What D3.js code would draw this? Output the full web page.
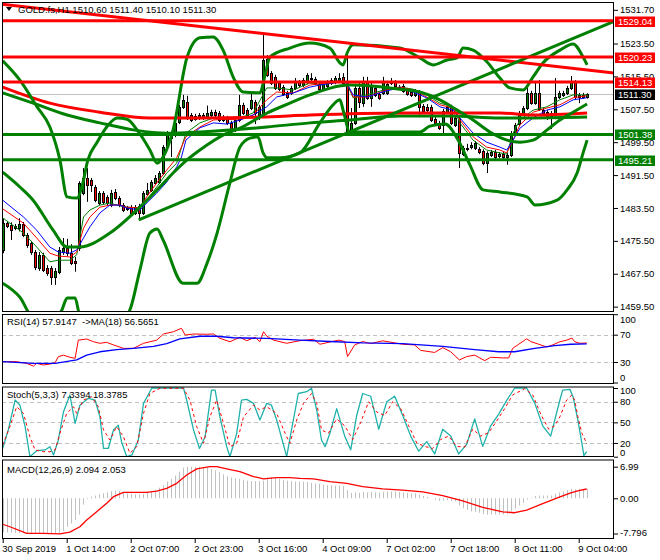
<!DOCTYPE html>
<html><head><meta charset="utf-8">
<script src="https://cdn.jsdelivr.net/npm/d3@7/dist/d3.min.js"></script>
<style>
html,body{margin:0;padding:0;background:#fff;}
svg{display:block;}
text{font-family:"Liberation Sans",Arial,sans-serif;font-size:9.5px;fill:#000;}
</style></head><body>
<svg id="chart" width="660" height="560"></svg>
<script>
// ---------- DATA ----------
const title = "GOLD.fs,H1  1510.60 1511.40 1510.10 1511.30";
const open = [
1473.3,1479.8,1479.4,1478.6,1478.6,1479.6,1476.9,1475.0,1472.8,1468.9,
1472.1,1468.9,1468.9,1466.7,1467.9,1472.8,1473.8,1472.5,1470.6,1473.8,
1487.1,1490.8,1490.3,1488.6,1484.7,1487.1,1486.2,1484.2,1487.4,1485.9,
1484.2,1483.5,1483.7,1482.3,1484.0,1482.3,1486.9,1487.9,1489.6,1489.8,
1492.0,1498.3,1501.7,1501.2,1504.4,1508.1,1509.3,1506.1,1505.1,1505.4,
1506.1,1505.6,1506.1,1506.9,1506.6,1504.9,1505.4,1504.2,1502.5,1504.9,
1508.6,1507.3,1507.8,1509.3,1506.1,1506.1,1519.7,1516.3,1515.4,1513.9,
1512.9,1511.5,1511.5,1512.7,1514.1,1513.4,1514.1,1514.9,1514.9,1513.7,
1512.4,1513.2,1513.9,1514.1,1514.6,1515.4,1514.1,1501.7,1504.2,1512.7,
1509.0,1514.1,1510.3,1512.7,1511.2,1511.5,1511.5,1513.9,1514.1,1512.9,
1513.2,1512.2,1511.7,1511.0,1511.7,1508.3,1508.1,1508.1,1505.1,1504.2,
1503.7,1506.9,1508.1,1503.7,1505.1,1496.6,1497.8,1498.3,1498.1,1497.8,
1497.3,1494.4,1496.4,1497.1,1496.1,1496.6,1495.9,1496.4,1501.7,1503.9,
1506.4,1507.8,1511.5,1509.0,1511.5,1507.3,1506.9,1505.4,1506.4,1510.5,
1511.0,1511.5,1512.7,1514.1,1510.5,1511.0,1510.6];
const close = [
1479.8,1479.1,1478.1,1479.1,1479.6,1476.9,1474.5,1472.8,1469.1,1472.1,
1468.4,1467.7,1466.7,1468.2,1473.3,1473.8,1472.5,1470.1,1470.1,1489.6,
1490.8,1489.1,1489.1,1485.4,1487.1,1484.9,1484.7,1487.1,1485.9,1484.2,
1483.0,1483.3,1482.3,1483.7,1482.3,1487.1,1487.9,1489.8,1490.8,1492.0,
1498.3,1501.7,1500.5,1504.2,1508.1,1509.8,1505.4,1504.9,1505.9,1506.1,
1505.4,1506.6,1506.9,1506.1,1504.9,1505.6,1504.2,1502.5,1504.9,1508.6,
1506.6,1506.1,1509.8,1506.6,1508.1,1519.5,1515.9,1513.9,1512.7,1512.4,
1511.2,1510.5,1512.7,1514.1,1513.4,1514.6,1515.9,1515.1,1513.9,1512.4,
1513.7,1514.1,1514.6,1515.1,1515.1,1513.9,1501.7,1504.2,1512.7,1509.3,
1514.1,1510.3,1512.9,1511.0,1510.3,1514.4,1513.7,1514.1,1513.2,1512.7,
1512.0,1511.2,1511.0,1512.0,1508.1,1507.1,1507.3,1504.9,1504.2,1503.0,
1507.1,1508.1,1504.2,1505.4,1496.9,1498.1,1498.1,1498.8,1499.3,1497.1,
1494.4,1496.9,1497.1,1495.9,1496.6,1495.9,1496.4,1501.7,1503.7,1506.6,
1507.8,1511.5,1509.0,1511.5,1507.6,1506.6,1505.4,1506.6,1510.5,1511.5,
1511.5,1512.7,1514.1,1510.5,1511.0,1510.6,1511.3];
const high = [
1480.8,1480.3,1480.0,1479.6,1481.0,1480.1,1477.4,1475.5,1473.3,1472.8,
1472.6,1469.6,1469.4,1468.9,1474.0,1476.2,1476.0,1474.7,1471.6,1490.0,
1493.2,1493.2,1490.8,1489.1,1487.6,1487.6,1486.6,1487.9,1488.1,1486.4,
1484.7,1484.0,1484.2,1484.2,1484.5,1487.6,1489.6,1490.3,1491.5,1492.5,
1498.8,1502.2,1502.2,1504.7,1508.6,1511.0,1510.8,1506.6,1506.4,1506.6,
1506.6,1508.4,1507.4,1507.4,1507.1,1506.1,1505.9,1504.7,1505.4,1511.0,
1509.1,1507.8,1511.5,1509.8,1508.6,1526.1,1520.7,1516.8,1515.9,1514.4,
1513.4,1512.0,1513.2,1515.1,1514.6,1515.1,1516.3,1516.3,1515.4,1514.1,
1514.1,1514.6,1515.1,1515.6,1516.3,1516.3,1521.4,1507.8,1513.7,1514.1,
1515.4,1515.4,1513.9,1513.2,1511.7,1515.4,1514.4,1515.1,1514.6,1513.4,
1513.7,1512.7,1512.2,1512.4,1512.2,1508.8,1508.8,1508.6,1505.6,1504.7,
1507.6,1508.6,1508.6,1505.9,1505.6,1498.6,1499.1,1499.5,1499.8,1498.3,
1497.8,1497.3,1497.6,1497.6,1497.1,1497.1,1496.9,1502.2,1504.2,1507.1,
1508.3,1512.9,1512.0,1514.4,1514.6,1507.8,1507.3,1507.1,1515.1,1512.0,
1512.0,1513.2,1515.6,1514.6,1511.5,1511.5,1511.4];
const low = [
1472.5,1478.6,1475.7,1478.1,1477.8,1476.4,1473.8,1472.1,1468.4,1468.2,
1467.9,1467.0,1464.8,1464.8,1467.4,1472.1,1471.8,1469.6,1468.0,1473.0,
1486.6,1485.0,1487.4,1484.9,1484.2,1484.4,1484.0,1483.7,1485.4,1483.7,
1482.5,1482.8,1481.8,1481.8,1480.6,1481.8,1486.4,1487.4,1489.1,1489.3,
1491.5,1497.8,1495.9,1500.7,1503.9,1507.6,1504.9,1504.4,1504.7,1504.9,
1504.9,1505.1,1505.6,1505.6,1504.4,1504.4,1503.7,1501.7,1502.0,1504.4,
1506.1,1505.6,1507.3,1503.9,1504.9,1505.6,1515.4,1513.4,1512.2,1511.9,
1510.8,1510.0,1511.0,1512.2,1512.9,1512.9,1513.6,1513.9,1513.4,1511.9,
1511.9,1512.7,1513.4,1513.6,1514.1,1513.4,1501.2,1501.0,1503.7,1507.8,
1508.1,1509.8,1508.1,1510.5,1509.8,1511.0,1511.0,1513.4,1512.7,1512.2,
1511.5,1510.8,1510.5,1510.5,1505.6,1506.6,1506.6,1504.4,1503.7,1502.5,
1501.2,1506.4,1503.7,1503.2,1493.2,1496.1,1497.3,1497.8,1497.6,1496.6,
1493.9,1492.0,1495.9,1495.4,1495.6,1495.4,1494.0,1495.9,1501.2,1503.4,
1505.9,1507.3,1508.6,1508.6,1507.1,1506.1,1504.9,1502.7,1505.1,1510.0,
1510.5,1511.0,1512.2,1510.0,1509.0,1510.1,1510.1];

// thin moving averages, [bar, price]
const maBlue = [[0,1485.4],[5.2,1481.3],[8.5,1478.1],[11.8,1474.0],[13.9,1472.8],[16.8,1472.5],[18.5,1473.3],[20.2,1476.2],[21.8,1478.9],[24.3,1482.3],[26.8,1484.2],[29.3,1484.2],[31,1483.5],[34.3,1483.0],[36,1484.7],[38.5,1487.1],[41,1489.8],[43.5,1493.5],[44.7,1495.9],[45.8,1500.0],[49.3,1503.0],[52.7,1504.2],[56,1503.9],[59.3,1504.9],[62.6,1506.1],[66,1508.1],[68.5,1510.5],[72.7,1511.5],[76.8,1512.9],[79.3,1513.4],[84.3,1514.1],[86,1513.9],[87.6,1511.0],[91,1510.5],[96,1512.0],[99.3,1512.7],[102.6,1511.7],[106,1510.3],[109.3,1508.1],[112.6,1507.3],[114.3,1505.4],[117.6,1501.7],[121,1499.5],[124.3,1498.3],[126,1497.6],[127.6,1500.0],[129.3,1502.9],[132.6,1505.4],[136,1507.3],[139.3,1508.1],[142.6,1509.8],[146,1510.3]];
const maRed = [[0,1483.3],[5.2,1479.8],[8.5,1476.2],[11.8,1472.5],[13.9,1471.8],[16.8,1471.6],[18.5,1472.8],[20.2,1478.6],[21.8,1481.3],[24.3,1483.7],[26.8,1484.2],[29.3,1484.2],[31,1483.7],[34.3,1483.5],[36,1486.2],[38.5,1489.6],[41,1492.7],[43.5,1495.7],[45.8,1500.8],[49.3,1503.2],[52.7,1504.9],[56,1505.1],[59.3,1504.9],[62.6,1506.1],[66,1509.8],[68.5,1511.7],[72.7,1511.5],[76.8,1513.4],[79.3,1513.7],[84.3,1514.4],[86,1514.1],[87.6,1510.5],[91,1510.5],[96,1512.2],[99.3,1512.9],[102.6,1512.2],[106,1510.5],[109.3,1508.6],[112.6,1507.8],[114.3,1504.9],[117.6,1500.8],[121,1498.3],[124.3,1497.6],[126,1496.9],[127.6,1500.0],[129.3,1503.7],[132.6,1506.8],[136,1507.8],[139.3,1508.6],[142.6,1510.3],[146,1510.8]];
const maGreen = [[0,1481.1],[5.2,1477.4],[8.5,1474.0],[11.8,1470.4],[13.9,1470.8],[16.8,1470.8],[18.5,1472.1],[20.2,1481.3],[21.8,1483.0],[24.3,1484.2],[26.8,1484.7],[29.3,1484.0],[31,1483.7],[34.3,1483.5],[36,1485.4],[38.5,1488.6],[41,1492.0],[43.5,1494.4],[45.8,1501.7],[49.3,1504.2],[52.7,1505.4],[56,1505.1],[59.3,1505.4],[62.6,1506.6],[66,1512.7],[68.5,1512.7],[72.7,1512.2],[76.8,1513.9],[79.3,1513.4],[84.3,1514.4],[86,1513.9],[87.6,1510.3],[91,1511.0],[96,1512.4],[99.3,1512.9],[102.6,1512.4],[106,1511.0],[109.3,1509.0],[112.6,1508.1],[114.3,1504.2],[117.6,1500.0],[121,1497.6],[124.3,1496.9],[126,1496.6],[127.6,1501.7],[129.3,1504.9],[132.6,1507.3],[136,1508.1],[139.3,1509.8],[142.6,1511.0],[146,1511.0]];

// Bollinger bands (thick green), [bar, price]
const bbUpper = [[0,1519.3],[4.3,1514.6],[8.6,1508.1],[11.8,1503.2],[14.3,1495.2],[16.1,1486.2],[18.6,1485.9],[19.8,1488.6],[21.3,1495.2],[23.6,1499.5],[26,1503.2],[28.6,1505.4],[31.1,1505.1],[33.6,1502.5],[36.8,1497.6],[38.6,1494.4],[40.1,1495.9],[42.6,1502.5],[46.1,1520.2],[49.3,1524.9],[52.6,1525.1],[55.1,1521.9],[57.6,1515.4],[60.1,1511.7],[64.3,1511.5],[65.6,1515.9],[66.8,1520.2],[71.8,1522.4],[76.8,1523.6],[81.8,1522.4],[84.3,1518.8],[85.1,1518.3],[86.1,1521.2],[87.6,1523.2],[99.3,1522.4],[104.3,1520.0],[107.6,1518.3],[111.1,1519.5],[113.6,1520.0],[115.1,1522.4],[117.6,1521.9],[121.1,1519.0],[124.3,1515.1],[126.8,1512.7],[130.1,1512.2],[132.6,1515.4],[135.1,1518.8],[139.3,1521.9],[142.6,1523.4],[145.1,1520.2],[146.1,1518.3]];
const bbMiddle = [[0,1492.2],[4.3,1488.6],[7.6,1485.4],[12.6,1478.1],[16.1,1474.0],[19.3,1474.0],[26.8,1477.4],[34.3,1483.7],[39.3,1488.6],[42.6,1492.0],[46.1,1495.2],[49.3,1497.6],[56.1,1501.7],[59.3,1502.9],[66.1,1506.6],[71.8,1509.0],[76.8,1511.0],[86.8,1513.4],[99.3,1512.4],[104.3,1511.7],[109.3,1509.8],[113.6,1507.3],[117.6,1504.9],[121.8,1502.0],[126.1,1500.0],[129.3,1499.5],[132.6,1500.0],[136.1,1502.5],[139.3,1504.9],[142.6,1506.8],[146.1,1508.8]];
const bbLower = [[0,1465.2],[4.3,1461.8],[7.6,1457.0],[13.5,1457.0],[14.8,1458.7],[16.1,1461.6],[18.1,1461.6],[19.3,1457.5],[30.8,1457.0],[31.8,1458.7],[34.3,1468.4],[36.8,1477.4],[38.6,1478.4],[40.1,1475.7],[45.1,1465.2],[48.6,1465.2],[51.1,1470.1],[53.6,1477.4],[56.8,1489.6],[59.3,1498.3],[61.8,1500.5],[63.8,1500.8],[65.1,1496.9],[66.1,1495.7],[69.3,1495.7],[74.3,1496.9],[79.3,1504.2],[82.6,1508.6],[84.3,1509.8],[85.1,1507.3],[86.8,1502.0],[104.3,1502.0],[106.8,1503.4],[110.6,1503.9],[113.6,1500.5],[116.8,1494.0],[120.1,1487.9],[124.3,1487.4],[131.1,1486.2],[133.1,1484.2],[138.6,1485.4],[141.1,1487.9],[143.6,1492.0],[145.1,1496.9],[146.1,1500.0]];
// long moving averages (thick)
const maLongGreen = [[0,1511.5],[7.6,1509.0],[16.1,1506.1],[24.3,1504.2],[32.6,1502.5],[41.1,1501.7],[49.3,1502.0],[57.6,1502.5],[66.1,1503.2],[76.8,1504.2],[86.8,1504.9],[99.3,1505.9],[111.8,1505.9],[124.3,1505.4],[132.6,1505.4],[146.1,1505.6]];
const maLongRed = [[0,1512.9],[11.8,1509.0],[24.3,1506.8],[36.8,1505.4],[49.3,1505.4],[64.3,1505.6],[76.8,1506.1],[99.3,1506.6],[124.3,1506.6],[132.6,1506.1],[146.1,1506.6]];

// trend lines (two anchor points: [bar, price])
const trendRed = [[0,1533.05],[146,1517.1]];
const trendGreen = [[34,1480.6],[146,1526.1]];
// horizontal levels
const levelsRed = [1529.04,1520.23,1514.13];
const levelsGreen = [1501.38,1495.21];
const lastPrice = 1511.30;
const priceTicks = [1531.70,1523.50,1515.50,1507.50,1499.50,1491.50,1483.50,1475.50,1467.50,1459.50];

// RSI
const rsi = [[0,30.5],[3.5,30.5],[6,28],[7.7,24],[8.5,28],[10.2,25.6],[11.8,27],[13.1,29],[13.9,37.8],[15.2,40],[16.8,37],[18.1,35.4],[18.9,62],[21,63.7],[22.7,59.7],[24.3,57.4],[26,58.8],[27.7,55],[30.2,50],[32.7,50],[35.2,57.4],[38.5,62],[40.2,71],[42.7,74.4],[44.7,79.4],[45.6,69.5],[47.7,71],[51,70.6],[52.7,71],[54.3,64.7],[56.8,59.7],[59.3,66.2],[61,61.2],[63.1,66.2],[64.3,59.7],[65.2,74.4],[66,68],[67.7,62],[71,57.4],[74.3,61.2],[77.7,63.3],[79.3,56],[81.8,59.3],[84,62],[85.5,60],[86.2,38],[88,55],[90,60],[92,57],[95,61],[98,58],[100,56],[103,55],[104.5,47],[108,44],[110,51],[112,45],[114.2,33],[116,38],[118,40],[120.5,32],[122,37],[125,36],[126.5,36],[127.5,50],[129,56],[131,64],[132,60],[134,56],[136,52],[137.5,55],[139.3,59.7],[141,62],[142.3,65],[143,59.7],[144.3,57.4],[146,57.9]];
const rsiMA = [[0,30.5],[7.7,28],[13.1,28],[18.5,33],[21,40],[24.3,45],[28.5,48],[32.7,50],[37.7,53],[41,57],[44.3,64],[49.3,67.7],[53.5,67.7],[57.7,65.5],[66,64.5],[74.3,62],[81.8,60],[90,58],[100,57],[110,53],[118,48],[124,45],[128,45],[133,50],[138,54],[142,56],[146,56.6]];
const rsiLevels = [70,30], rsiTicks = [100,70,30,0];

// Stochastic
const stochK = [[0,12],[1.4,39],[3.1,82.5],[4.3,75],[5.6,43.7],[6.8,0],[8.5,8.7],[10.6,9.8],[11.8,14.6],[12.7,2.5],[13.9,24],[15.2,65.5],[16.8,89.8],[18.1,48.6],[19.3,75],[21.4,85],[23.1,82.5],[24.3,58.2],[25.2,12.2],[26.4,12],[27.7,39],[28.9,46],[29.7,21.8],[31,0],[32.3,2.5],[33.9,24],[35.2,77.7],[37.3,100],[41,100],[45.2,100],[46,82.5],[47.7,39],[49.2,12],[50.6,29],[52.2,97],[53.1,97],[54.3,58],[56,14.6],[56.8,0],[58.5,34],[59.7,82.5],[61,83.5],[62.7,77.7],[64.3,53.4],[66,77.7],[67.2,75],[68.5,53.4],[71,0],[72.2,39],[73.9,92],[76,94.6],[77.2,99.6],[78.5,68],[79.7,24.3],[80.6,14.6],[81.8,34],[83.5,70],[85.5,30],[87,10],[88.5,60],[90,92],[92,88],[94,40],[96,80],[98,88],[100,60],[102,30],[104,8],[106,22],[108,4],[110,40],[112,30],[114,4],[116,18],[118,55],[120,15],[122,45],[124,62],[126,82],[128,100],[131,100],[133,78],[135,45],[137,30],[138.3,60],[139.3,82.5],[140,97],[141.8,98],[142.6,87],[143.8,53],[144.8,19.5],[145.3,1.5],[146,7.3]];
const stochD = [[0,17],[1.8,43.7],[3.5,72.8],[5.2,63],[6.8,29],[8.1,9.8],[10.2,7.3],[11.8,7.3],[13.1,9.8],[14.3,34],[16,63],[17.7,72.8],[18.5,63],[20.2,82.5],[22.2,87.3],[23.9,72.8],[25.2,39],[26.8,24.3],[28.5,43.7],[30.2,29],[31.8,5],[33.5,14.6],[35.2,63],[36.8,92],[39.3,99.6],[45.2,99.6],[46.8,82.5],[48.5,43.7],[50.2,19.5],[51.8,58],[53.5,82.5],[55.2,48.6],[56.8,14.6],[58.5,19.5],[60.2,58],[62.7,75],[64.3,68],[66,72.8],[68.5,63],[70.6,34],[71.8,19.5],[73.5,53.4],[75.2,77.7],[77.2,92],[78.5,77.7],[79.7,39],[81.4,34],[83.5,55],[85.5,45],[87.5,25],[89.5,50],[91.5,80],[93.5,65],[95.5,60],[97.5,80],[99.5,70],[101.5,45],[103.5,20],[105.5,15],[107.5,12],[109.5,25],[111.5,30],[113.5,15],[115.5,14],[117.5,40],[119.5,30],[121.5,35],[123.5,52],[125.5,70],[127.5,90],[130.5,99],[132.5,90],[134.5,62],[136.5,40],[138,45],[139.3,58],[141,82.5],[142.3,89.8],[143,82.5],[143.8,58],[144.8,34],[145.6,24.3],[146,18.4]];
const stochLevels = [80,50,20], stochTicks = [100,80,50,20,0];

// MACD
const macdHist = [
-7.5,-7.6,-7.6,-7.7,-7.7,-7.7,-7.796,-7.796,-7.796,-7.796,-7.796,-7.796,-7.796,-7.796,-7.7,
-7.3,-6.3,-5.6,-4.8,-3.6,-1.4,-0.2,0.35,0.6,0.9,1.1,1.3,1.6,1.7,1.6,
1.3,1.1,1.0,0.9,0.9,1.0,1.3,1.6,1.9,2.35,2.9,3.7,4.3,5.0,5.9,
6.8,6.99,6.99,6.99,6.99,6.95,6.85,6.5,6.2,5.9,5.3,4.9,4.6,4.4,4.3,
4.1,3.9,3.8,3.8,3.8,3.9,4.6,4.7,4.5,4.3,4.1,3.9,3.8,3.7,3.7,
3.7,3.6,3.4,3.3,3.2,3.0,2.9,2.9,2.8,2.8,2.7,1.8,1.2,1.3,1.2,
1.4,1.3,1.4,1.3,1.2,1.4,1.5,1.5,1.5,1.4,1.3,1.2,1.1,1.1,0.8,
0.5,0.3,0.0,-0.3,-0.6,-0.5,-0.4,-0.6,-0.7,-1.6,-2.2,-2.6,-2.9,-3.0,-3.2,
-3.5,-3.6,-3.6,-3.6,-3.6,-3.6,-3.5,-2.9,-2.3,-1.6,-1.0,-0.3,0.1,0.5,0.6,
0.6,0.6,0.6,1.0,1.3,1.5,1.8,2.1,2.0,2.1,2.1,2.094];
const macdSignal = [[0,-5.75],[1.8,-6.3],[6,-7.75],[10.2,-7.75],[14.3,-7.9],[16.8,-7.5],[19.3,-6.3],[21,-4.8],[23.5,-2.96],[26,-1.1],[27.7,0.35],[30.2,1.3],[32.7,1.3],[36,1.3],[38.5,1.6],[41,2.2],[43.5,3.3],[46,5.15],[48.5,6.5],[51.8,7.0],[53.5,7.0],[56,6.5],[59.3,5.9],[62.7,4.8],[65.2,4.3],[68.5,4.55],[71.8,4.55],[74.3,4.4],[77.7,4.3],[81.8,3.7],[86,3.3],[90,2.6],[95,2.1],[100,1.8],[105,1.4],[110,0.6],[115,-0.6],[120,-2.0],[125,-3.0],[128,-3.2],[131,-2.6],[135,-1.2],[139,0.2],[142,1.2],[144,1.7],[146,2.053]];
const macdTicks = [6.99,0.00,-7.796];

// time axis
const timeTickBars = [0,16,32,48,64,80,96,112,128,144];
const timeLabels = ["30 Sep 2019","1 Oct 14:00","2 Oct 07:00","2 Oct 23:00","3 Oct 16:00","4 Oct 09:00","7 Oct 02:00","7 Oct 18:00","8 Oct 11:00","9 Oct 04:00"];

// ---------- DRAW ----------
const svg = d3.select("#chart");
const L = 2, R = 614;
const P = {main:[2,312], rsi:[314,384], sto:[386.5,457], macd:[459.5,539]};
const x = d3.scaleLinear().domain([0,146]).range([2.7,586.7]);
const y = d3.scaleLinear().domain([1458.2,1533.6]).range([312,2]);
const yR = d3.scaleLinear().domain([0,100]).range([382.5,314.2]);
const yS = d3.scaleLinear().domain([0,100]).range([456.7,388]);
const yM = d3.scaleLinear().domain([-7.796,6.99]).range([533.5,466.7]);

const defs = svg.append("defs");
Object.entries(P).forEach(([k,[t,b]])=>{
  defs.append("clipPath").attr("id","clip-"+k).append("rect")
    .attr("x",L).attr("y",t).attr("width",R-L).attr("height",b-t);
});
const gMain = svg.append("g").attr("clip-path","url(#clip-main)");
const gRsi = svg.append("g").attr("clip-path","url(#clip-rsi)");
const gSto = svg.append("g").attr("clip-path","url(#clip-sto)");
const gMacd = svg.append("g").attr("clip-path","url(#clip-macd)");

function knot(g, pts, ys, color, w, dash, curve){
  const ln = d3.line().x(d=>x(d[0])).y(d=>ys(d[1])).curve(curve||d3.curveLinear);
  g.append("path").attr("d",ln(pts)).attr("fill","none").attr("stroke",color)
    .attr("stroke-width",w).attr("stroke-dasharray",dash||null).attr("stroke-linejoin","round");
}

// current price line (behind)
gMain.append("line").attr("x1",L).attr("x2",R)
  .attr("y1",Math.round(y(lastPrice))+0.5).attr("y2",Math.round(y(lastPrice))+0.5)
  .attr("stroke","#c0c0c0").attr("stroke-width",1);

// candles
const idx = d3.range(open.length);
const cg = gMain.append("g");
idx.forEach(i=>{
  const cx = Math.round(x(i))+0.5;
  const o=open[i], c=close[i];
  const hi = Math.max(high[i],o,c), lo = Math.min(low[i],o,c);
  cg.append("line").attr("x1",cx).attr("x2",cx)
    .attr("y1",y(hi)).attr("y2",y(lo)).attr("stroke","#000").attr("stroke-width",1);
  const top = Math.round(y(Math.max(o,c)))+0.5, bot = Math.round(y(Math.min(o,c)))+0.5;
  if (bot-top < 1) {
    cg.append("line").attr("x1",cx-1.5).attr("x2",cx+1.5).attr("y1",top).attr("y2",top)
      .attr("stroke","#000").attr("stroke-width",1);
  } else {
    cg.append("rect").attr("x",cx-1).attr("y",top).attr("width",2).attr("height",bot-top)
      .attr("fill", c>=o ? "#008000" : "#ff0000").attr("stroke","#000").attr("stroke-width",1);
  }
});

// thin MAs
knot(gMain, maGreen, y, "#008000", 1);
knot(gMain, maRed, y, "#ff0000", 1);
knot(gMain, maBlue, y, "#0000ff", 1);

// long MAs and bands
knot(gMain, maLongGreen, y, "#008000", 3, null, d3.curveMonotoneX);
knot(gMain, maLongRed, y, "#ff0000", 3, null, d3.curveMonotoneX);
knot(gMain, bbUpper, y, "#008000", 3, null, d3.curveMonotoneX);
knot(gMain, bbMiddle, y, "#008000", 3, null, d3.curveMonotoneX);
knot(gMain, bbLower, y, "#008000", 3, null, d3.curveMonotoneX);

// trend lines
function trend(pts, color, extendLeft){
  const [[b0,p0],[b1,p1]] = pts;
  const s = (p1-p0)/(b1-b0);
  const bl = extendLeft ? x.invert(L) : b0, br = x.invert(R);
  gMain.append("line").attr("x1",x(bl)).attr("y1",y(p0+s*(bl-b0)))
    .attr("x2",x(br)).attr("y2",y(p0+s*(br-b0)))
    .attr("stroke",color).attr("stroke-width",3);
}
trend(trendRed, "#ff0000", true);
trend(trendGreen, "#008000", false);

// horizontal levels
levelsRed.forEach(v=>gMain.append("line").attr("x1",L).attr("x2",R).attr("y1",y(v)).attr("y2",y(v)).attr("stroke","#ff0000").attr("stroke-width",3));
levelsGreen.forEach(v=>gMain.append("line").attr("x1",L).attr("x2",R).attr("y1",y(v)).attr("y2",y(v)).attr("stroke","#008000").attr("stroke-width",3));

// RSI panel
rsiLevels.forEach(v=>gRsi.append("line").attr("x1",L).attr("x2",R).attr("y1",Math.round(yR(v))+0.5).attr("y2",Math.round(yR(v))+0.5).attr("stroke","#c0c0c0").attr("stroke-dasharray","4,3"));
knot(gRsi, rsi, yR, "#ff0000", 1);
knot(gRsi, rsiMA, yR, "#0000ff", 1.3);

// Stoch panel
stochLevels.forEach(v=>gSto.append("line").attr("x1",L).attr("x2",R).attr("y1",Math.round(yS(v))+0.5).attr("y2",Math.round(yS(v))+0.5).attr("stroke","#c0c0c0").attr("stroke-dasharray","4,3"));
knot(gSto, stochK, yS, "#20b2aa", 1.3);
knot(gSto, stochD, yS, "#ff0000", 1, "3,3");

// MACD panel
macdHist.forEach((v,i)=>{
  const cx = Math.round(x(i))+0.5;
  gMacd.append("line").attr("x1",cx).attr("x2",cx).attr("y1",yM(0)).attr("y2",yM(v))
    .attr("stroke","#c0c0c0").attr("stroke-width",1);
});
knot(gMacd, macdSignal, yM, "#ff0000", 1.3);

// frames
Object.values(P).forEach(([t,b])=>{
  svg.append("rect").attr("x",L+0.5).attr("y",t+0.5).attr("width",R-L-1).attr("height",b-t-1)
    .attr("fill","none").attr("stroke","#000").attr("stroke-width",1);
});

// right axes (edge labels are nudged inside their panel, as the terminal does)
function rightAxis(scale, ticks, fmt, nudge){
  const g = svg.append("g").attr("transform",`translate(${R},0)`)
    .call(d3.axisRight(scale).tickValues(ticks).tickFormat(fmt).tickSize(4).tickPadding(2));
  g.select(".domain").remove();
  g.attr("font-family",null).attr("font-size",null);
  g.selectAll(".tick text").attr("y",d=>(nudge && nudge.has(d)) ? nudge.get(d) : 0);
  return g;
}
rightAxis(y, priceTicks, d3.format(".2f"), new Map([[1531.70,-0.5]]));
rightAxis(yR, rsiTicks, d3.format("d"), new Map([[100,5],[0,-5.5]]));
rightAxis(yS, stochTicks, d3.format("d"), new Map([[100,2.5],[0,-4]]));
rightAxis(yM, macdTicks, d=> d===0 ? "0.00" : (d===6.99 ? "6.99" : "-7.796"), new Map([[-7.796,-1]]));

// price label boxes
const boxes = levelsRed.map(v=>({v,c:"#ff0000"}))
  .concat([{v:lastPrice,c:"#000000"}])
  .concat(levelsGreen.map(v=>({v,c:"#008000"})));
boxes.forEach(b=>{
  const yy = y(b.v);
  svg.append("rect").attr("x",615).attr("y",Math.round(yy)-4.5).attr("width",40).attr("height",10.5).attr("fill",b.c);
  svg.append("text").attr("x",618).attr("y",yy+0.5).attr("dy","0.35em").style("fill","#fff").text(d3.format(".2f")(b.v));
});

// bottom time axis
const gx = svg.append("g").attr("transform",`translate(0,${P.macd[1]})`)
  .call(d3.axisBottom(x).tickValues(timeTickBars).tickFormat((d,i)=>timeLabels[i]).tickSize(4).tickPadding(2));
gx.select(".domain").remove();
gx.attr("font-family",null).attr("font-size",null);
gx.selectAll("text").attr("text-anchor","start").attr("x",-1);

// titles
svg.append("path").attr("d","M6,7 L12,7 L9,11 Z").attr("fill","#000");
svg.append("text").attr("x",18).attr("y",10).attr("dy","0.35em").text(title);
svg.append("text").attr("x",7).attr("y",322).attr("dy","0.35em").attr("xml:space","preserve").text("RSI(14) 57.9147  ->MA(18) 56.5651");
svg.append("text").attr("x",7).attr("y",395).attr("dy","0.35em").text("Stoch(5,3,3) 7.3394 18.3785");
svg.append("text").attr("x",7).attr("y",470).attr("dy","0.35em").text("MACD(12,26,9) 2.094 2.053");
</script>
</body></html>
